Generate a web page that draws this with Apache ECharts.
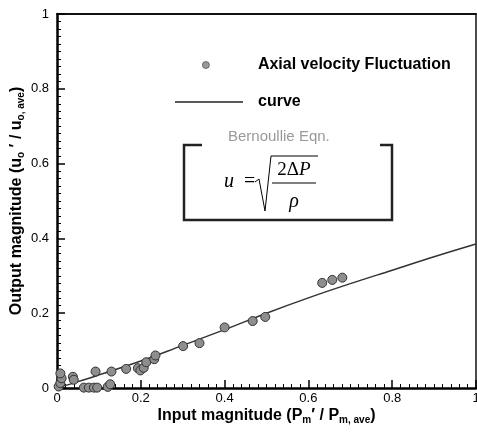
<!DOCTYPE html>
<html>
<head>
<meta charset="utf-8">
<script src="https://cdn.jsdelivr.net/npm/echarts@6/dist/echarts.min.js"></script>
<style>
  html, body { margin: 0; padding: 0; background: #fff; }
  #chart { width: 477px; height: 432px; }
</style>
</head>
<body>
<div id="chart"></div>
<script>
// Measured fluctuation amplitudes (input vs. output magnitude)
const inputMag = [0.004, 0.008, 0.011, 0.008, 0.038, 0.040, 0.064, 0.076, 0.088, 0.096,
  0.121, 0.127, 0.092, 0.130, 0.165, 0.193, 0.199, 0.207, 0.213, 0.232, 0.235,
  0.301, 0.340, 0.400, 0.467, 0.497, 0.633, 0.657, 0.681];
const outputMag = [0.004, 0.013, 0.026, 0.039, 0.030, 0.022, 0.001, 0.001, 0.001, 0.001,
  0.003, 0.010, 0.044, 0.044, 0.051, 0.053, 0.047, 0.054, 0.069, 0.077, 0.087,
  0.112, 0.120, 0.162, 0.179, 0.190, 0.281, 0.289, 0.295];

// Bernoulli-based prediction curve
const curveX = [0, 0.05, 0.1, 0.2, 0.3, 0.4, 0.5, 0.6, 0.7, 0.8, 0.9, 1.0];
const curveY = [0, 0.017, 0.035, 0.072, 0.114, 0.156, 0.200, 0.241, 0.279, 0.315, 0.351, 0.385];

// Axis tick labels
const tickValues = [0, 0.2, 0.4, 0.6, 0.8, 1];
const tickLabels = ['0', '0.2', '0.4', '0.6', '0.8', '1'];

const seriesNames = ['Axial velocity Fluctuation', 'curve'];

const fmt = v => {
  const i = tickValues.findIndex(t => Math.abs(t - v) < 1e-9);
  return i >= 0 ? tickLabels[i] : '';
};

const SANS = '"Liberation Sans", Arial, sans-serif';
const SERIF = '"Liberation Serif", "Times New Roman", serif';

const nameRich = {
  b: { fontFamily: SANS, fontWeight: 'bold', fontSize: 16, color: '#000', lineHeight: 18 },
  s: { fontFamily: SANS, fontWeight: 'bold', fontSize: 10, color: '#000', lineHeight: 6, verticalAlign: 'bottom' }
};

// main axis: line, major ticks, labels and title
const mainAxis = (extra) => Object.assign({
  type: 'value', min: 0, max: 1, interval: 0.2,
  axisLine: { show: true, onZero: false, lineStyle: { color: '#000', width: 2.5 } },
  axisTick: { show: true, inside: true, length: 8, lineStyle: { color: '#000', width: 1.5 } },
  minorTick: { show: true, splitNumber: 10, length: 4, lineStyle: { color: '#000', width: 1 } },
  splitLine: { show: false },
  nameLocation: 'middle',
  nameMoveOverlap: false,
  nameTextStyle: { rich: nameRich }
}, extra);

const frameAxis = (pos, w) => ({
  type: 'value', min: 0, max: 1, position: pos,
  axisLine: { show: true, onZero: false, lineStyle: { color: '#111', width: w } },
  axisTick: { show: false }, axisLabel: { show: false }, splitLine: { show: false }
});

const chart = echarts.init(document.getElementById('chart'), null, { renderer: 'canvas' });

chart.setOption({
  animation: false,
  backgroundColor: '#fff',
  grid: { left: 57, right: 1, top: 14, bottom: 44, containLabel: false, outerBoundsMode: 'none' },
  xAxis: [
    mainAxis({
      position: 'bottom',
      axisLabel: { color: '#000', fontSize: 13, fontFamily: SANS, formatter: fmt, margin: 4 },
      name: '{b|Input magnitude (P}{s|m}{b|′ / P}{s|m, ave}{b|)}',
      nameGap: 19
    }),
    frameAxis('top', 2)
  ],
  yAxis: [
    mainAxis({
      position: 'left',
      axisLabel: { color: '#000', fontSize: 13, fontFamily: SANS, formatter: fmt, margin: 8 },
      name: '{b|Output magnitude (u}{s|o}{b| ′ / u}{s|o, ave}{b|)}',
      nameGap: 31
    }),
    frameAxis('right', 1.5)
  ],
  legend: [
    {
      data: [seriesNames[0]], left: 202, top: 57, padding: 0,
      icon: 'circle', itemWidth: 8, itemHeight: 7,
      itemStyle: { color: '#999', borderColor: '#555', borderWidth: 0.8 },
      textStyle: { fontFamily: SANS, fontWeight: 'bold', fontSize: 16, color: '#000', padding: [0, 0, 0, 43] }
    },
    {
      data: [seriesNames[1]], left: 175, top: 94, padding: 0,
      icon: 'rect', itemWidth: 68, itemHeight: 1.6,
      itemStyle: { color: '#222', borderWidth: 0 },
      textStyle: { fontFamily: SANS, fontWeight: 'bold', fontSize: 16, color: '#000', padding: [0, 0, 0, 10] }
    }
  ],
  graphic: [
    // bracket frame around the Bernoulli equation
    { type: 'polyline', shape: { points: [[202, 145], [184, 145], [184, 220], [392, 220], [392, 145], [380, 145]] },
      style: { stroke: '#222', lineWidth: 2.5, fill: null } },
    { type: 'text', x: 228, y: 137,
      style: { text: 'Bernoullie Eqn.', verticalAlign: 'middle', font: '15px ' + SANS, fill: '#999' } },
    { type: 'text', x: 224, y: 182,
      style: { text: '{i|u}  =', verticalAlign: 'middle', font: '20px ' + SERIF, fill: '#000',
        rich: { i: { fontStyle: 'italic', fontFamily: SERIF, fontSize: 20 } } } },
    { type: 'polyline', shape: { points: [[255, 182], [259, 179], [265, 211], [271, 156], [318, 156]] },
      style: { stroke: '#000', lineWidth: 1, fill: null } },
    { type: 'text', x: 294, y: 170,
      style: { text: '2Δ{i|P}', align: 'center', verticalAlign: 'middle', font: '19px ' + SERIF, fill: '#000',
        rich: { i: { fontStyle: 'italic', fontFamily: SERIF, fontSize: 19 } } } },
    { type: 'line', shape: { x1: 272, y1: 183, x2: 316, y2: 183 }, style: { stroke: '#000', lineWidth: 1 } },
    { type: 'text', x: 294, y: 202,
      style: { text: 'ρ', align: 'center', verticalAlign: 'middle', font: 'italic 20px ' + SERIF, fill: '#000' } }
  ],
  series: [
    {
      name: seriesNames[1],
      type: 'line',
      data: curveX.map((x, i) => [x, curveY[i]]),
      smooth: 0.4,
      symbol: 'none',
      lineStyle: { color: '#333', width: 1.5 },
      z: 2
    },
    {
      name: seriesNames[0],
      type: 'scatter',
      data: inputMag.map((x, i) => [x, outputMag[i]]),
      symbol: 'circle',
      symbolSize: 9,
      itemStyle: { color: '#8e8e8e', borderColor: '#333', borderWidth: 1, opacity: 1 },
      z: 3
    }
  ]
});
</script>
</body>
</html>
